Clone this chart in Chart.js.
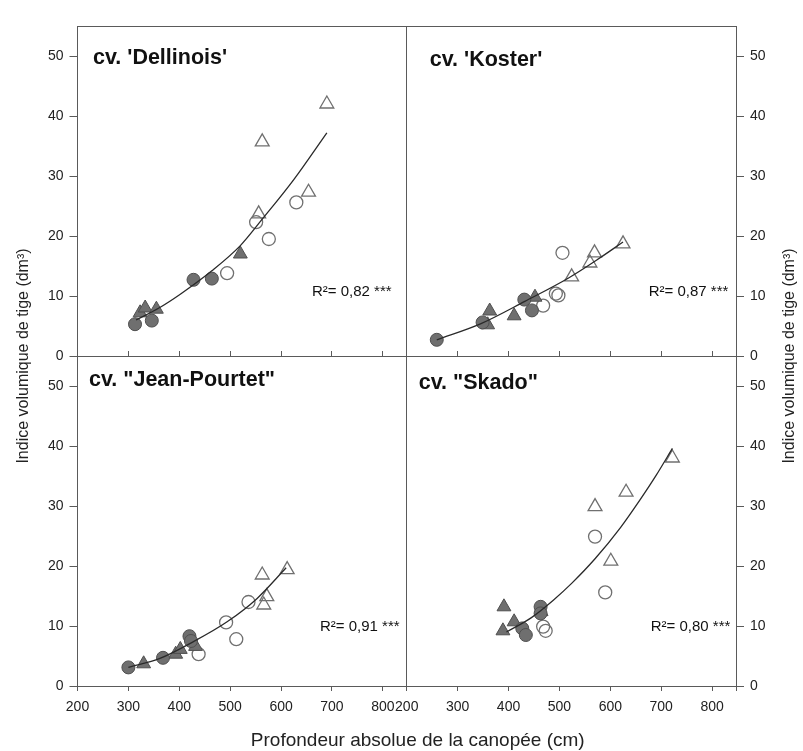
<!DOCTYPE html>
<html>
<head>
<meta charset="utf-8">
<script src="https://cdn.jsdelivr.net/npm/chart.js@4.4.1/dist/chart.umd.min.js"></script>
<style>
  html, body { margin: 0; padding: 0; background: #fff; }
  #wrap { position: relative; width: 803px; height: 751px; }
</style>
</head>
<body>
<div id="wrap"><canvas id="fig" width="803" height="751"></canvas></div>
<script>
// axes
const xTicks = [200, 300, 400, 500, 600, 700, 800];
const yTicks = [0, 10, 20, 30, 40, 50];
const xMax = 847;
const yMax = 55;

// cv. 'Dellinois' (haut gauche)
const dellinoisFilledCircles = [[313, 5.3], [346, 5.9], [428, 12.7], [464, 12.9]];
const dellinoisFilledTriangles = [[323, 7.2], [333, 8.0], [355, 7.8], [520, 17.0]];
const dellinoisOpenCircles = [[494, 13.8], [551, 22.3], [576, 19.5], [630, 25.6]];
const dellinoisOpenTriangles = [[556, 23.7], [563, 35.7], [654, 27.3], [690, 42.0]];
const dellinoisFit = [[315, 6.0], [360, 8.0], [402, 10.3], [464, 14.2], [520, 18.4], [563, 22.8], [625, 29.4], [690, 37.2]];

// cv. 'Koster' (haut droite)
const kosterFilledCircles = [[259, 2.7], [349, 5.6], [431, 9.4], [446, 7.6]];
const kosterFilledTriangles = [[359, 5.2], [363, 7.5], [411, 6.7], [452, 9.8]];
const kosterOpenCircles = [[468, 8.4], [493, 10.4], [498, 10.1], [506, 17.2]];
const kosterOpenTriangles = [[524, 13.2], [560, 15.5], [569, 17.2], [625, 18.7]];
const kosterFit = [[259, 2.7], [346, 5.4], [432, 9.1], [518, 13.0], [577, 16.2], [625, 19.0]];

// cv. "Jean-Pourtet" (bas gauche)
const jeanFilledCircles = [[300, 3.1], [368, 4.7], [420, 8.3], [423, 7.5]];
const jeanFilledTriangles = [[330, 3.7], [393, 5.3], [402, 6.1], [432, 6.6]];
const jeanOpenCircles = [[438, 5.3], [492, 10.6], [512, 7.8], [536, 14.0]];
const jeanOpenTriangles = [[563, 18.5], [566, 13.5], [572, 14.9], [612, 19.4]];
const jeanFit = [[300, 3.1], [362, 4.6], [428, 7.4], [494, 10.7], [553, 14.6], [610, 19.7]];

// cv. "Skado" (bas droite)
const skadoFilledCircles = [[427, 9.6], [434, 8.5], [463, 13.2], [463, 12.1]];
const skadoFilledTriangles = [[389, 9.2], [391, 13.2], [411, 10.7], [464, 12.4]];
const skadoOpenCircles = [[468, 9.9], [473, 9.2], [570, 24.9], [590, 15.6]];
const skadoOpenTriangles = [[570, 29.9], [601, 20.8], [631, 32.3], [722, 38.0]];
const skadoFit = [[396, 9.0], [445, 11.4], [488, 14.3], [524, 17.1], [570, 21.2], [620, 26.4], [659, 31.1], [690, 35.1], [722, 39.6]];

const panelLabels = ["cv. 'Dellinois'", "cv. 'Koster'", 'cv. "Jean-Pourtet"', 'cv. "Skado"'];
const panelR2 = ['R²= 0,82 ***', 'R²= 0,87 ***', 'R²= 0,91 ***', 'R²= 0,80 ***'];
const yTitle = 'Indice volumique de tige (dm³)';
const xTitle = 'Profondeur absolue de la canopée (cm)';

const FONT = '"Liberation Sans", Arial, Helvetica, sans-serif';
const axisColor = '#5a5a5a';
const none = 'rgba(0,0,0,0)';
Chart.defaults.font.family = FONT;
Chart.defaults.color = '#222';

const toXY = arr => arr.map(([x, y]) => ({ x, y }));

function markers(data, xID, yID, shape, filled) {
  return {
    type: 'scatter',
    data: toXY(data),
    xAxisID: xID,
    yAxisID: yID,
    pointStyle: shape,
    pointRadius: shape === 'triangle' ? 8 : 6.5,
    backgroundColor: filled ? '#6f6f6f' : none,
    borderColor: filled ? '#4f4f4f' : '#707070',
    borderWidth: filled ? 1 : 1.3,
    order: 1
  };
}

function fitLine(data, xID, yID) {
  return {
    type: 'line',
    data: toXY(data),
    xAxisID: xID,
    yAxisID: yID,
    borderColor: '#2a2a2a',
    borderWidth: 1.3,
    pointRadius: 0,
    cubicInterpolationMode: 'monotone',
    fill: false,
    order: 0
  };
}

function panelSets(fc, ft, oc, ot, fit, xID, yID) {
  return [
    markers(fc, xID, yID, 'circle', true),
    markers(ft, xID, yID, 'triangle', true),
    markers(oc, xID, yID, 'circle', false),
    markers(ot, xID, yID, 'triangle', false),
    fitLine(fit, xID, yID)
  ];
}

const datasets = [].concat(
  panelSets(dellinoisFilledCircles, dellinoisFilledTriangles, dellinoisOpenCircles, dellinoisOpenTriangles, dellinoisFit, 'xL', 'yTL'),
  panelSets(kosterFilledCircles, kosterFilledTriangles, kosterOpenCircles, kosterOpenTriangles, kosterFit, 'xR', 'yTR'),
  panelSets(jeanFilledCircles, jeanFilledTriangles, jeanOpenCircles, jeanOpenTriangles, jeanFit, 'xL', 'yBL'),
  panelSets(skadoFilledCircles, skadoFilledTriangles, skadoOpenCircles, skadoOpenTriangles, skadoFit, 'xR', 'yBR')
);

function yAxis(pos, weight, lines) {
  return {
    type: 'linear', position: pos, stack: pos + 'Stack', stackWeight: 1, weight,
    min: 0, max: yMax,
    afterBuildTicks: s => { s.ticks = yTicks.concat([yMax]).map(value => ({ value })); },
    ticks: {
      autoSkip: false, padding: 6, color: '#222', font: { size: 14 },
      callback: v => (v === yMax ? '' : String(v))
    },
    grid: {
      drawOnChartArea: lines,
      lineWidth: 1,
      color: c => (c.tick && (c.tick.value === 0 || c.tick.value === yMax)) ? axisColor : none,
      tickColor: c => (c.tick && c.tick.value === yMax) ? none : axisColor,
      tickLength: 8
    },
    border: { display: true, color: axisColor, width: 1 },
    afterFit: s => { s.width = pos === 'left' ? 33.5 : 34; }
  };
}

function xAxis(weight, lines) {
  return {
    type: 'linear', position: 'bottom', stack: 'bottomStack', stackWeight: 1, weight,
    min: 200, max: xMax,
    afterBuildTicks: s => { s.ticks = xTicks.concat([xMax]).map(value => ({ value })); },
    ticks: {
      autoSkip: false, maxRotation: 0, padding: 8, color: '#222', font: { size: 14 },
      callback: v => (v === xMax ? '' : String(v))
    },
    grid: {
      drawOnChartArea: lines,
      color: c => (c.tick && c.tick.value === xMax) ? axisColor : none,
      tickColor: axisColor,
      tickLength: 5
    },
    border: { display: true, color: axisColor, width: 1 },
    afterFit: s => { s.height = 34; }
  };
}

// empty axes that only reserve room for the outer titles
function titleAxis(pos, size, title) {
  const vertical = pos !== 'bottom';
  return {
    type: 'linear', position: pos, weight: 10, min: 0, max: 1,
    ticks: { display: false },
    grid: { display: false },
    border: { display: false },
    title: title || { display: false },
    afterFit: s => { if (vertical) s.width = size; else s.height = size; }
  };
}

// texts inside each panel, offsets from the panel's upper left corner
const notePos = [
  { x: 'xL', y: 'yTL', lx: 15.5, ly: 38, rx: 234.5, ry: 270 },
  { x: 'xR', y: 'yTR', lx: 23, ly: 40, rx: 242, ry: 270 },
  { x: 'xL', y: 'yBL', lx: 11.5, ly: 30, rx: 242.5, ry: 275 },
  { x: 'xR', y: 'yBR', lx: 12, ly: 33, rx: 244, ry: 275 }
];

const panelText = {
  id: 'panelText',
  afterDatasetsDraw(chart) {
    const ctx = chart.ctx;
    const area = chart.chartArea;
    ctx.save();
    ctx.fillStyle = '#111';
    ctx.textBaseline = 'alphabetic';
    notePos.forEach((p, i) => {
      const xs = chart.scales[p.x], ys = chart.scales[p.y];
      ctx.font = 'bold 21.5px ' + FONT;
      ctx.fillText(panelLabels[i], xs.left + p.lx, ys.top + p.ly);
      ctx.font = '15px ' + FONT;
      ctx.fillText(panelR2[i], xs.left + p.rx, ys.top + p.ry);
    });
    ctx.fillStyle = '#222';
    ctx.textAlign = 'center';
    ctx.textBaseline = 'middle';
    // right title reads bottom to top, like the left one
    const tr = chart.scales.yTitleR;
    ctx.font = '16px ' + FONT;
    ctx.translate(tr.right - 13, (area.top + area.bottom) / 2);
    ctx.rotate(-Math.PI / 2);
    ctx.fillText(yTitle, 0, 0);
    ctx.setTransform(1, 0, 0, 1, 0, 0);
    // x title
    const tb = chart.scales.xTitle;
    ctx.font = '19px ' + FONT;
    ctx.fillText(xTitle, (area.left + area.right) / 2 + 11, tb.bottom - 10);
    ctx.restore();
  }
};

new Chart(document.getElementById('fig'), {
  type: 'scatter',
  data: { datasets },
  options: {
    responsive: false,
    animation: false,
    layout: { padding: { left: 0, right: 0, top: 26, bottom: 0 } },
    plugins: { legend: { display: false }, tooltip: { enabled: false } },
    scales: {
      yTitleL: titleAxis('left', 44, {
        display: true, text: yTitle, color: '#222', font: { size: 16 }, padding: { top: 14, bottom: 0 }
      }),
      yTL: yAxis('left', 1, true),
      yBL: yAxis('left', 0, false),
      yTR: yAxis('right', 0, false),
      yBR: yAxis('right', 1, false),
      yTitleR: titleAxis('right', 33),
      xL: xAxis(0, true),
      xR: xAxis(1, false),
      xTitle: titleAxis('bottom', 31),
      // small inner ticks under the two upper panels
      xMid: {
        type: 'linear', axis: 'x', position: { yTL: 0 },
        min: 200, max: 200 + 2 * (xMax - 200),
        afterBuildTicks: s => {
          const inner = xTicks.slice(1);
          s.ticks = inner.concat(inner.map(v => v + xMax - 200)).map(value => ({ value }));
        },
        ticks: { display: false },
        grid: { drawOnChartArea: false, tickLength: -5, tickColor: axisColor },
        border: { display: false },
        afterFit: s => { s.height = 0; }
      }
    }
  },
  plugins: [panelText]
});
</script>
</body>
</html>
